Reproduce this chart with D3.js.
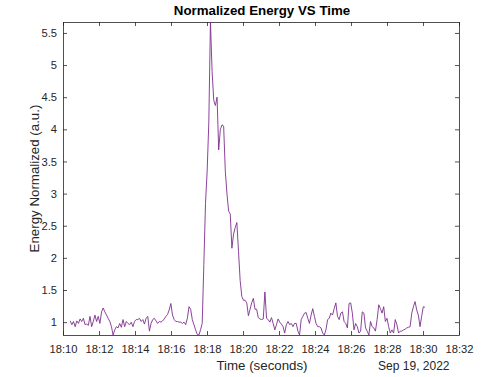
<!DOCTYPE html>
<html>
<head>
<meta charset="utf-8">
<script src="https://cdn.jsdelivr.net/npm/d3@7"></script>
<style>
  body { margin: 0; background: #fff; }
  text { font-family: "Liberation Sans", Arial, Helvetica, sans-serif; }
</style>
</head>
<body>
<div id="chart"></div>
<script>
// data
dateStr = "2022-09-19"
sampleStart = "18:10:24"
sampleStepSec = 5.5
xTicks = ["18:10","18:12","18:14","18:16","18:18","18:20","18:22","18:24","18:26","18:28","18:30","18:32"]
yTicks = [1, 1.5, 2, 2.5, 3, 3.5, 4, 4.5, 5, 5.5]

energy = [
  // 18:10 - 18:14
  1.02, 0.96, 1.01, 0.93, 1.02, 0.98, 1.05, 1.01, 1.06, 0.96,
  0.97, 0.95, 1.09, 0.93, 1.01, 1.11, 1.01, 1.09, 0.98, 1.16,
  1.22, 1.16, 1.11, 1.06, 1.01, 0.93, 0.80, 0.88, 0.93, 0.91,
  0.98, 0.92, 1.04, 0.93, 1.01, 0.98, 0.96, 1.00, 0.93, 1.01,
  1.04,
  // 18:14 - 18:18
  1.04, 1.06, 1.01, 1.04, 0.97, 1.06, 1.09, 0.86, 0.98, 1.04,
  1.06, 1.02, 0.98, 1.01, 1.00, 1.02, 1.05, 1.09, 1.12, 1.19,
  1.29, 1.11, 1.04, 1.01, 1.01, 1.00, 1.00, 0.98, 1.00, 0.96,
  1.06, 1.24, 1.20, 1.04, 0.96, 0.88, 0.81, 0.80, 0.88, 0.98,
  // the burst
  1.90, 2.85, 3.35, 4.10, 5.67, 4.90, 4.45, 4.37, 4.50, 3.68,
  4.00, 4.07, 4.05, 3.35, 3.00, 2.73, 2.68, 2.15, 2.37, 2.47,
  2.55, 2.10, 1.65, 1.40, 1.34, 1.34, 1.30, 1.10, 1.20, 1.30,
  1.37, 1.20, 1.20, 1.07, 1.05, 1.04, 1.05, 1.47, 1.06, 1.04,
  1.00, 1.07, 0.98, 0.88, 0.96, 1.05, 1.00, 0.97,
  // 18:22 - 18:30
  0.93, 0.83, 0.96, 1.01, 0.96, 0.98, 0.93, 0.98, 0.98, 0.86,
  0.80, 1.04, 1.09, 1.14, 1.15, 1.06, 0.98, 1.11, 1.21, 1.09,
  0.98, 0.93, 0.93, 0.91, 0.83, 0.80, 0.88, 1.04, 1.06, 1.14,
  1.11, 1.21, 1.30, 1.09, 1.04, 1.14, 1.16, 1.01, 0.98, 0.91,
  1.29, 1.30, 1.14, 0.88, 0.98, 0.93, 0.83, 0.86, 1.16, 1.14,
  0.91, 0.86, 0.80, 1.01, 0.93, 0.91, 0.86, 1.04, 1.27, 1.21,
  1.14, 1.24, 1.01, 1.06, 0.93, 0.83, 0.88, 0.83, 1.04, 0.96,
  0.83, 0.86, 0.86, 0.88, 0.89, 0.91, 0.92, 0.93, 1.14, 1.24,
  1.32, 1.19, 1.11, 0.93, 1.09, 1.24, 1.23
]

width = 486
height = 377
box = {left: 63, right: 459, top: 22, bottom: 335}
ink = "#262626"

svg = d3.select("#chart")
  .append("svg")
  .attr("width", width)
  .attr("height", height)

parseT = d3.timeParse("%Y-%m-%d %H:%M:%S")
parseHM = d3.timeParse("%Y-%m-%d %H:%M")
t0 = parseT(dateStr + " " + sampleStart)
tickDates = xTicks.map(s => parseHM(dateStr + " " + s))
data = energy.map((v, i) => ({t: new Date(t0.getTime() + i * sampleStepSec * 1000), v: v}))

x = d3.scaleTime()
  .domain([tickDates[0], tickDates[tickDates.length - 1]])
  .range([box.left, box.right])

y = d3.scaleLinear()
  .domain(d3.extent(energy))
  .range([box.bottom, box.top])

function styleAxis(g, size) {
  g.attr("font-size", size)
   .attr("font-family", null)
   .style("color", ink)
  g.select(".domain").remove()
  g.selectAll(".tick line").attr("stroke-width", 0.8)
}

// bottom axis with labels
svg.append("g")
  .attr("transform", `translate(0, ${box.bottom})`)
  .call(d3.axisBottom(x).tickValues(tickDates).tickFormat(d3.timeFormat("%H:%M"))
    .tickSizeInner(-4).tickSizeOuter(0).tickPadding(10))
  .call(g => styleAxis(g, 11.2))

// top mirror ticks
svg.append("g")
  .attr("transform", `translate(0, ${box.top})`)
  .call(d3.axisTop(x).tickValues(tickDates).tickFormat("")
    .tickSizeInner(-4).tickSizeOuter(0))
  .call(g => styleAxis(g, 11.2))

// left axis with labels
svg.append("g")
  .attr("transform", `translate(${box.left}, 0)`)
  .call(d3.axisLeft(y).tickValues(yTicks).tickFormat(d3.format("~g"))
    .tickSizeInner(-4).tickSizeOuter(0).tickPadding(6))
  .call(g => styleAxis(g, 11.2))

// right mirror ticks
svg.append("g")
  .attr("transform", `translate(${box.right}, 0)`)
  .call(d3.axisRight(y).tickValues(yTicks).tickFormat("")
    .tickSizeInner(-4).tickSizeOuter(0))
  .call(g => styleAxis(g, 11.2))

// the box
svg.append("rect")
  .attr("x", box.left + 0.5)
  .attr("y", box.top + 0.5)
  .attr("width", box.right - box.left)
  .attr("height", box.bottom - box.top)
  .attr("fill", "none")
  .attr("stroke", ink)
  .attr("stroke-width", 0.8)

// the energy trace
line = d3.line()
  .x(d => x(d.t))
  .y(d => y(d.v))

svg.append("path")
  .datum(data)
  .attr("d", line)
  .attr("fill", "none")
  .attr("stroke", "#7E2F8E")
  .attr("stroke-width", 0.9)
  .attr("stroke-linejoin", "round")

// titles
svg.append("text")
  .attr("x", (box.left + box.right) / 2 + 1)
  .attr("y", 15)
  .attr("text-anchor", "middle")
  .attr("font-size", 13.3)
  .attr("font-weight", "bold")
  .attr("fill", "#000")
  .text("Normalized Energy VS Time")

svg.append("text")
  .attr("x", (box.left + box.right) / 2 + 1)
  .attr("y", 370)
  .attr("text-anchor", "middle")
  .attr("font-size", 13.3)
  .attr("fill", ink)
  .text("Time (seconds)")

svg.append("text")
  .attr("x", 449.5)
  .attr("y", 370)
  .attr("text-anchor", "end")
  .attr("font-size", 12)
  .attr("fill", ink)
  .text("Sep 19, 2022")

svg.append("text")
  .attr("transform", `translate(39, ${(box.top + box.bottom) / 2}) rotate(-90)`)
  .attr("text-anchor", "middle")
  .attr("font-size", 13.3)
  .attr("fill", ink)
  .text("Energy Normalized (a.u.)")
</script>
</body>
</html>
